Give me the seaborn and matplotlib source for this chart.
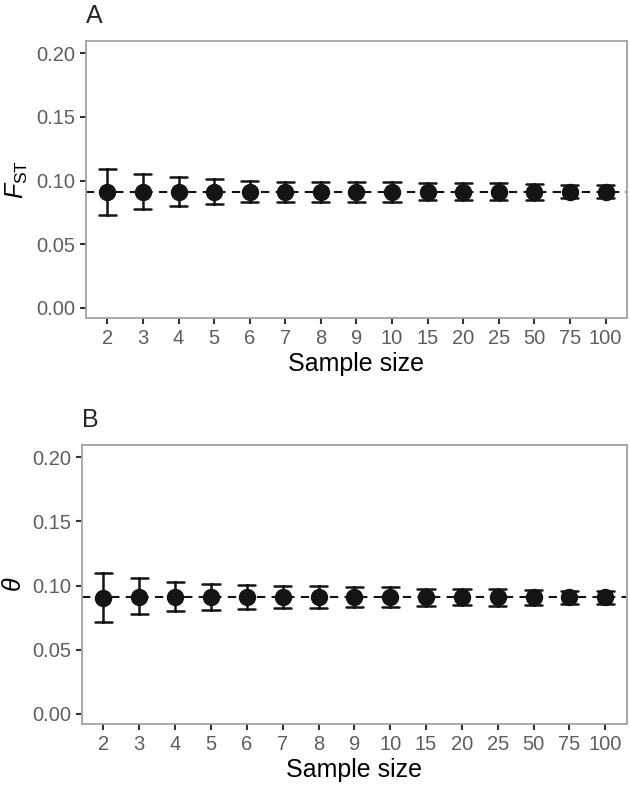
import pandas as pd
import matplotlib.pyplot as plt
import seaborn as sns

SAMPLE_SIZES = ['2', '3', '4', '5', '6', '7', '8', '9', '10', '15', '20', '25', '50', '75', '100']
TRUE_VALUE = 0.091

# panel A: F_ST estimates
fst_mean = [0.091, 0.091, 0.091, 0.091, 0.091, 0.091, 0.091, 0.091, 0.091, 0.091, 0.091, 0.091, 0.091, 0.091, 0.091]
fst_low = [0.073, 0.078, 0.080, 0.082, 0.083, 0.083, 0.083, 0.083, 0.0835, 0.085, 0.085, 0.085, 0.085, 0.086, 0.086]
fst_high = [0.109, 0.105, 0.1025, 0.101, 0.100, 0.099, 0.099, 0.099, 0.0986, 0.098, 0.098, 0.098, 0.097, 0.0965, 0.0965]

# panel B: theta estimates
theta_mean = [0.0905, 0.091, 0.091, 0.091, 0.091, 0.091, 0.091, 0.091, 0.091, 0.091, 0.091, 0.091, 0.091, 0.091, 0.091]
theta_low = [0.0714, 0.0777, 0.0798, 0.081, 0.0819, 0.0824, 0.0824, 0.083, 0.083, 0.0842, 0.0845, 0.0842, 0.085, 0.0855, 0.0855]
theta_high = [0.110, 0.106, 0.1025, 0.101, 0.1007, 0.0994, 0.0994, 0.0988, 0.0988, 0.0976, 0.0973, 0.0973, 0.0965, 0.096, 0.096]

sns.set_style('white')
plt.rcParams['font.family'] = ['Liberation Sans', 'DejaVu Sans']
plt.rcParams['mathtext.fontset'] = 'custom'
plt.rcParams['mathtext.rm'] = 'Liberation Sans'
plt.rcParams['mathtext.it'] = 'Liberation Sans:italic'

TICK_GREY = '#5e5e5e'
FRAME_GREY = '#a3a3a3'
INK = '#141414'


def long_table(low, mean, high):
    # three rows per sample size; median = mean, 100% interval = low..high
    df = pd.DataFrame({'size': SAMPLE_SIZES, 'low': low, 'mean': mean, 'high': high})
    return df.melt(id_vars='size', value_name='value')


def draw_panel(ax, df, ylabel, letter):
    ax.axhline(TRUE_VALUE, color=INK, lw=1.5, ls=(0, (4, 3)), zorder=1)
    sns.pointplot(data=df, x='size', y='value', order=SAMPLE_SIZES,
                  estimator='median', errorbar=('pi', 100), capsize=0.48,
                  color=INK, linestyle='none', markersize=10.5,
                  err_kws={'linewidth': 1.8}, ax=ax, zorder=3)
    ax.set_xlim(-0.6, 14.6)
    ax.set_ylim(-0.0078, 0.2094)
    ax.set_yticks([0.0, 0.05, 0.10, 0.15, 0.20])
    ax.set_yticklabels(['0.00', '0.05', '0.10', '0.15', '0.20'])
    ax.set_xlabel('Sample size', fontsize=18, color='black', labelpad=3)
    ax.set_ylabel(ylabel, fontsize=18, color='black', labelpad=4)
    ax.tick_params(axis='both', length=4.5, width=1.5, color='#333333',
                   labelsize=14.5, labelcolor=TICK_GREY, pad=3.5, bottom=True, left=True)
    for sp in ax.spines.values():
        sp.set_color(FRAME_GREY)
        sp.set_linewidth(1.3)
    ax.set_title(letter, loc='left', fontsize=18, pad=13, x=0.0)


fig = plt.figure(figsize=(6.3, 7.85), dpi=100)
ax_a = fig.add_axes([0.1365, 0.595, 0.8585, 0.3525])
ax_b = fig.add_axes([0.130, 0.0777, 0.865, 0.3554])

draw_panel(ax_a, long_table(fst_low, fst_mean, fst_high), r'$\mathit{F}_{\mathrm{ST}}$', 'A')
draw_panel(ax_b, long_table(theta_low, theta_mean, theta_high), r'$\mathit{\theta}$', 'B')

fig.savefig('out.png', dpi=100)
